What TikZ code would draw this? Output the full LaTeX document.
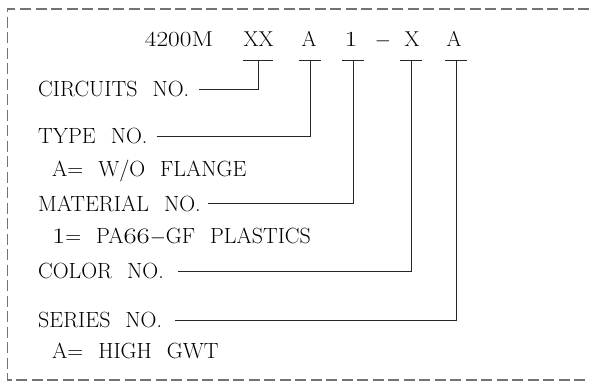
\documentclass[tikz,border=0pt]{standalone}
\usepackage{fontspec}
\newcommand{\wsp}{\hspace{15pt}}
\newcommand{\widedigits}[1]{\scalebox{1.3}[1]{#1}}
\begin{document}
\begin{tikzpicture}[x=1pt,y=-1pt,
  lbl/.style={anchor=west,inner sep=0pt,font=\fontsize{22}{26}\selectfont,text height=15pt,text depth=0pt},
  hdr/.style={anchor=base,inner sep=0pt,font=\fontsize{21.5}{24}\selectfont},
  conn/.style={line width=1pt,draw=black!85},
  framebox/.style={draw=black!55,line width=1.1pt,dash pattern=on 11pt off 4.5pt}]
\useasboundingbox (0,0) rectangle (589,381);
\draw[framebox] (589,9) -- (7.5,9) -- (7.5,380) -- (589,380);
% header
\node[hdr] (h0) at (179,46) {\scalebox{1.18}[1]{4200M}};
\node[hdr] (h1) at (258.5,46) {XX};
\node[hdr] (h2) at (309,46) {A};
\node[hdr] (h3) at (351,46) {\widedigits{1}};
\node[hdr] (h4) at (383,46) {$-$};
\node[hdr] (h5) at (412,46) {X};
\node[hdr] (h6) at (454,46) {A};
% tick coordinates
\coordinate (t1) at (258,60);
\coordinate (t2) at (310,60);
\coordinate (t3) at (353,60);
\coordinate (t4) at (411,60);
\coordinate (t5) at (456,60);
\draw[conn] ([xshift=-15pt]t1) -- ([xshift=15pt]t1);
\foreach \t in {t2,t3,t4,t5}{\draw[conn] ([xshift=-11pt]\t) -- ([xshift=11pt]\t);}
% labels
\node[lbl] (l1) at (38,89) {CIRCUITS\wsp NO.};
\node[lbl] (l2) at (38,136) {TYPE\wsp NO.};
\node[lbl] (s2) at (52,169) {A=\wsp W/O\wsp FLANGE};
\node[lbl] (l3) at (38,203.5) {MATERIAL\wsp NO.};
\node[lbl] (s3) at (52,235.5) {\widedigits{1}=\wsp PA\widedigits{66}$-$GF\wsp PLASTICS};
\node[lbl] (l4) at (38,271) {COLOR\wsp NO.};
\node[lbl] (l5) at (38,320) {SERIES\wsp NO.};
\node[lbl] (s5) at (52,350.5) {A=\wsp HIGH\wsp GWT};
% connectors
\draw[conn] ([xshift=10pt]l1.east) -| (t1);
\draw[conn] ([xshift=9pt]l2.east) -| (t2);
\draw[conn] ([xshift=7pt]l3.east) -| (t3);
\draw[conn] ([xshift=14pt]l4.east) -| (t4);
\draw[conn] ([xshift=13pt]l5.east) -| (t5);
\end{tikzpicture}
\end{document}
